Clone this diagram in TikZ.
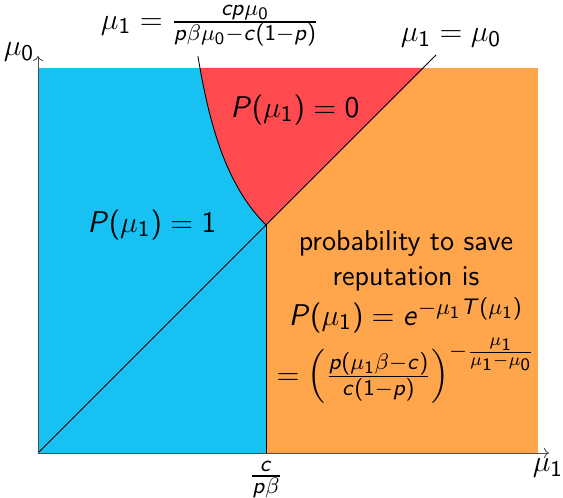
\documentclass[tikz,border=0pt]{standalone}
\usepackage{amsmath}
\DeclareSymbolFont{sfit}{OT1}{cmss}{m}{sl}
\SetSymbolFont{operators}{normal}{OT1}{cmss}{m}{n}
\DeclareMathSymbol{P}{\mathalpha}{sfit}{`P}
\DeclareMathSymbol{T}{\mathalpha}{sfit}{`T}
\DeclareMathSymbol{c}{\mathalpha}{sfit}{`c}
\DeclareMathSymbol{p}{\mathalpha}{sfit}{`p}
\DeclareMathSymbol{e}{\mathalpha}{sfit}{`e}
\DeclareMathSizes{11.5}{11.5}{9}{7.5}
\definecolor{regblue}{HTML}{17C1F1}
\definecolor{regred}{HTML}{FF4B50}
\definecolor{regorange}{HTML}{FFA54B}
\usetikzlibrary{arrows.meta}
\tikzset{
  lbl/.style={font=\sffamily\fontsize{11.5}{14}\selectfont, inner sep=1pt},
  bound/.style={draw=black, line width=0.35pt},
  axis/.style={draw=black!70, line width=0.35pt, -{To[length=2pt,width=4pt]}},
}
\begin{document}
\begin{tikzpicture}[x=0.4pt,y=-0.4pt]
\useasboundingbox (0,0) rectangle (563,498);
% key points
\coordinate (O) at (38,453);
\coordinate (J) at (266,225);
\coordinate (B) at (266,453);
\coordinate (TL) at (38,68);
\coordinate (TM) at (266,68);
\coordinate (TR) at (538,68);
\coordinate (BR) at (538,453);
\coordinate (DT) at (424,68);
\coordinate (D) at (436,55);
\coordinate (XE) at (549,453);
\coordinate (YE) at (38,56);
% regions
\fill[regblue] (TL) rectangle (B);
\fill[regorange] (TM) rectangle (BR);
\fill[regred] plot[domain=228:385, samples=60, variable=\t] ({38+114/(1-114/\t)}, {453-\t}) -- (DT) -- cycle;
% boundaries
\draw[bound] (J) -- (B);
\draw[bound] (O) -- (D);
\draw[bound] plot[domain=228:397, samples=60, variable=\t] ({38+114/(1-114/\t)}, {453-\t});
% axes
\draw[axis] (O) -- (XE);
\draw[axis] (O) -- (YE);
% labels
\node[lbl, anchor=west] (curvelbl) at (98,26) {$\mu_1 = \frac{cp\mu_0}{p\beta\mu_0 - c(1-p)}$};
\node[lbl] (diaglbl) at (451,38) {$\mu_1 = \mu_0$};
\node[lbl] (ylbl) at (19,52) {$\mu_0$};
\node[lbl] (xlbl) at (548,468) {$\mu_1$};
\node[lbl] (ticklbl) at (266,480) {$\frac{c}{p\beta}$};
\node[lbl] (p0) at (295,110) {$P(\mu_1) = 0$};
\node[lbl] (p1) at (152,225) {$P(\mu_1) = 1$};
\node[lbl, align=center] (txt) at (406,317) {probability to save\\reputation is\\[2pt]$P(\mu_1) = e^{-\mu_1 T(\mu_1)}$\\[1pt]$= \left(\frac{p(\mu_1\beta - c)}{c(1-p)}\right)^{-\frac{\mu_1}{\mu_1-\mu_0}}$};
\end{tikzpicture}
\end{document}
